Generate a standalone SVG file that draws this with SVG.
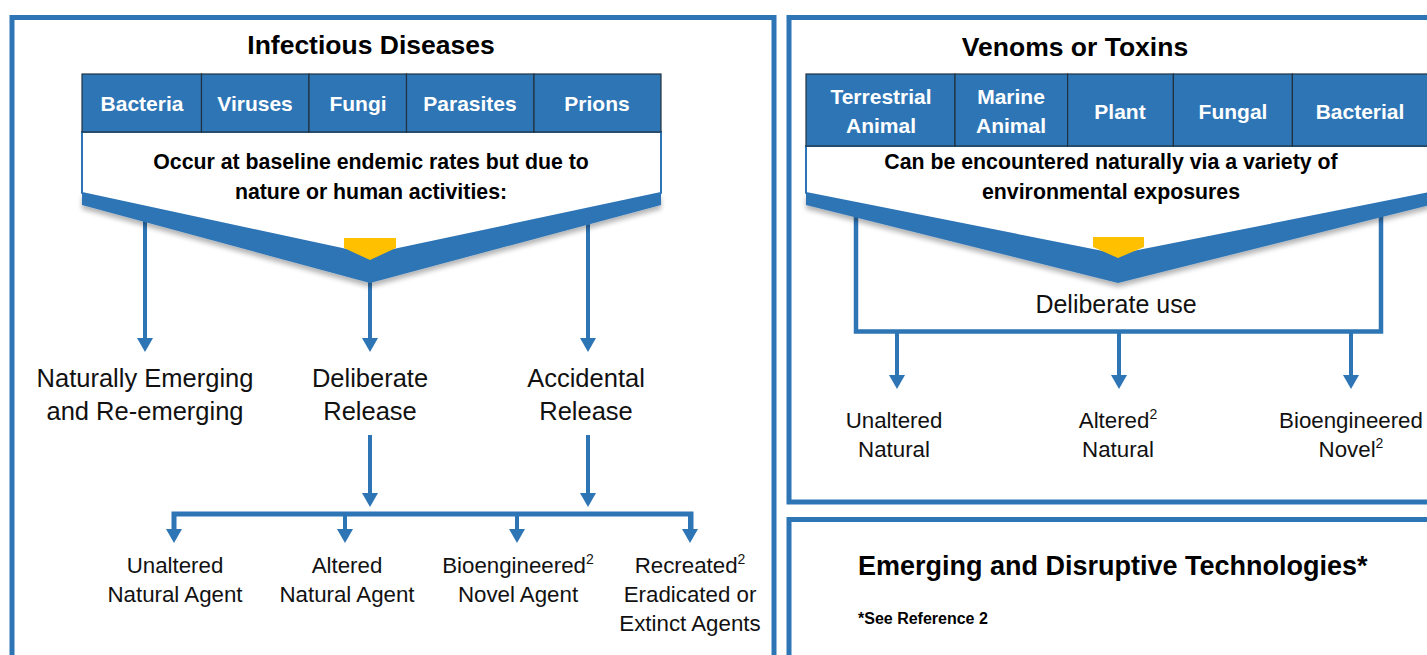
<svg xmlns="http://www.w3.org/2000/svg" width="1427" height="655" viewBox="0 0 1427 655">
  <defs>
    <style>
      .panel { fill: #ffffff; stroke: #2E75B6; stroke-width: 5; }
      .cell { fill: #2E75B6; stroke: #22313f; stroke-width: 1.2; }
      .cellText { font-family: "Liberation Sans", Arial, sans-serif; font-weight: bold; font-size: 21px; fill: #ffffff; text-anchor: middle; }
      .title { font-family: "Liberation Sans", Arial, sans-serif; font-weight: bold; font-size: 26.5px; fill: #000000; text-anchor: middle; }
      .note { font-family: "Liberation Sans", Arial, sans-serif; font-weight: bold; font-size: 21.3px; fill: #000000; text-anchor: middle; }
      .big { font-family: "Liberation Sans", Arial, sans-serif; font-size: 25.5px; fill: #111111; text-anchor: middle; }
      .small { font-family: "Liberation Sans", Arial, sans-serif; font-size: 22.3px; fill: #111111; text-anchor: middle; }
      .sup { font-size: 14px; }
      .panelWhite { fill: #ffffff; stroke: #2E75B6; stroke-width: 2; }
      .band { fill: #2E75B6; }
      .marker { fill: #FFC000; }
      .link { fill: none; stroke: #2E75B6; stroke-width: 4; }
      .bar { fill: none; stroke: #2E75B6; stroke-width: 5; }
    </style>
    <marker id="arrow" markerUnits="userSpaceOnUse" markerWidth="16" markerHeight="16" refX="2" refY="8" orient="auto" viewBox="0 0 14 16">
      <path d="M0,0 L14,8 L0,16 Z" fill="#2E75B6"/>
    </marker>
    <filter id="soft" x="-5%" y="-20%" width="110%" height="160%">
      <feGaussianBlur in="SourceAlpha" stdDeviation="2.5"/>
      <feOffset dx="0" dy="4" result="off"/>
      <feComponentTransfer><feFuncA type="linear" slope="0.3"/></feComponentTransfer>
      <feMerge><feMergeNode/><feMergeNode in="SourceGraphic"/></feMerge>
    </filter>
  </defs>

  <rect width="1427" height="655" fill="#ffffff"/>

  <!-- panel frames -->
  <g id="frames">
    <rect class="panel" x="12" y="17.5" width="762" height="720"/>
    <rect class="panel" x="789" y="17.5" width="700" height="484.5"/>
    <rect class="panel" x="789" y="519.5" width="700" height="220"/>
  </g>

  <!-- connectors -->
  <g id="connectors">
    <!-- infectious diseases: release pathways -->
    <line class="link" x1="145" y1="220" x2="145" y2="340" marker-end="url(#arrow)"/>
    <line class="link" x1="370" y1="278" x2="370" y2="340" marker-end="url(#arrow)"/>
    <line class="link" x1="588" y1="222" x2="588" y2="340" marker-end="url(#arrow)"/>
    <line class="link" x1="370" y1="435" x2="370" y2="495" marker-end="url(#arrow)"/>
    <line class="link" x1="588" y1="435" x2="588" y2="495" marker-end="url(#arrow)"/>
    <path class="bar" d="M174,531 V514 H691 V531"/>
    <line class="link" x1="174" y1="514" x2="174" y2="531" marker-end="url(#arrow)"/>
    <line class="link" x1="345" y1="514" x2="345" y2="531" marker-end="url(#arrow)"/>
    <line class="link" x1="517" y1="514" x2="517" y2="531" marker-end="url(#arrow)"/>
    <line class="link" x1="690" y1="514" x2="690" y2="531" marker-end="url(#arrow)"/>
    <!-- venoms: deliberate use outcomes -->
    <path class="link" style="stroke-width:4.5" d="M856,214 V331.5 H1381 V214"/>
    <line class="link" x1="897" y1="331" x2="897" y2="377" marker-end="url(#arrow)"/>
    <line class="link" x1="1119" y1="331" x2="1119" y2="377" marker-end="url(#arrow)"/>
    <line class="link" x1="1351" y1="331" x2="1351" y2="377" marker-end="url(#arrow)"/>
  </g>

  <!-- Infectious Diseases -->
  <g id="infectious">
    <text class="title" x="371" y="54">Infectious Diseases</text>
    <polygon class="panelWhite" points="82,132 661,132 661,193 370,255 82,193"/>
    <polygon class="band" filter="url(#soft)" points="82,193 370,255 661,193 661,205 370,283 82,205"/>
    <polygon class="marker" points="344,238 396,238 396,248 370,260 344,248"/>
    <text class="note" x="371" y="169">Occur at baseline endemic rates but due to</text>
    <text class="note" x="371" y="199">nature or human activities:</text>
  </g>
  <g id="infectious-agents">
    <rect class="cell" x="82" y="74" width="119.5" height="58"/>
    <rect class="cell" x="201.5" y="74" width="107.5" height="58"/>
    <rect class="cell" x="309" y="74" width="97.5" height="58"/>
    <rect class="cell" x="406.5" y="74" width="127.5" height="58"/>
    <rect class="cell" x="534" y="74" width="127" height="58"/>
    <text class="cellText" x="142" y="111">Bacteria</text>
    <text class="cellText" x="255" y="111">Viruses</text>
    <text class="cellText" x="358" y="111">Fungi</text>
    <text class="cellText" x="470" y="111">Parasites</text>
    <text class="cellText" x="597" y="111">Prions</text>
  </g>
  <g id="naturally-emerging">
    <text class="big" x="145" y="387">Naturally Emerging</text>
    <text class="big" x="145" y="420">and Re-emerging</text>
  </g>
  <g id="deliberate-release">
    <text class="big" x="370" y="387">Deliberate</text>
    <text class="big" x="370" y="420">Release</text>
  </g>
  <g id="accidental-release">
    <text class="big" x="586" y="387">Accidental</text>
    <text class="big" x="586" y="420">Release</text>
  </g>
  <g id="unaltered-agent">
    <text class="small" x="175" y="573">Unaltered</text>
    <text class="small" x="175" y="602">Natural Agent</text>
  </g>
  <g id="altered-agent">
    <text class="small" x="347" y="573">Altered</text>
    <text class="small" x="347" y="602">Natural Agent</text>
  </g>
  <g id="bioengineered-agent">
    <text class="small" x="518" y="573">Bioengineered<tspan class="sup" dy="-9">2</tspan></text>
    <text class="small" x="518" y="602">Novel Agent</text>
  </g>
  <g id="recreated-agent">
    <text class="small" x="690" y="573">Recreated<tspan class="sup" dy="-9">2</tspan></text>
    <text class="small" x="690" y="602">Eradicated or</text>
    <text class="small" x="690" y="631">Extinct Agents</text>
  </g>

  <!-- Venoms or Toxins -->
  <g id="venoms">
    <text class="title" x="1075" y="56">Venoms or Toxins</text>
    <polygon class="panelWhite" points="806,146 1430,146 1430,193 1118,255 806,193"/>
    <polygon class="band" filter="url(#soft)" points="806,193 1118,255 1430,193 1430,205 1118,283 806,205"/>
    <polygon class="marker" points="1093,237 1144,237 1144,247 1118,258 1093,247"/>
    <text class="note" x="1111" y="169">Can be encountered naturally via a variety of</text>
    <text class="note" x="1111" y="199">environmental exposures</text>
  </g>
  <g id="venom-sources">
    <rect class="cell" x="806" y="74" width="149" height="72"/>
    <rect class="cell" x="955" y="74" width="112.6" height="72"/>
    <rect class="cell" x="1067.6" y="74" width="105.8" height="72"/>
    <rect class="cell" x="1173.4" y="74" width="119" height="72"/>
    <rect class="cell" x="1292.4" y="74" width="140" height="72"/>
    <text class="cellText" x="881" y="104">Terrestrial</text>
    <text class="cellText" x="881" y="133">Animal</text>
    <text class="cellText" x="1011" y="104">Marine</text>
    <text class="cellText" x="1011" y="133">Animal</text>
    <text class="cellText" x="1120" y="119">Plant</text>
    <text class="cellText" x="1233" y="119">Fungal</text>
    <text class="cellText" x="1360" y="119">Bacterial</text>
  </g>
  <g id="deliberate-use">
    <text class="big" style="font-size:25px" x="1116" y="313">Deliberate use</text>
  </g>
  <g id="unaltered-natural">
    <text class="small" x="894" y="428">Unaltered</text>
    <text class="small" x="894" y="457">Natural</text>
  </g>
  <g id="altered-natural">
    <text class="small" x="1118" y="428">Altered<tspan class="sup" dy="-9">2</tspan></text>
    <text class="small" x="1118" y="457">Natural</text>
  </g>
  <g id="bioengineered-novel">
    <text class="small" x="1351" y="428">Bioengineered</text>
    <text class="small" x="1351" y="457">Novel<tspan class="sup" dy="-9">2</tspan></text>
  </g>

  <!-- Emerging and Disruptive Technologies -->
  <g id="emerging-tech">
    <text x="858" y="575" font-family="Liberation Sans, Arial, sans-serif" font-weight="bold" font-size="27px" fill="#000">Emerging and Disruptive Technologies*</text>
    <text x="858" y="624" font-family="Liberation Sans, Arial, sans-serif" font-weight="bold" font-size="16px" fill="#000">*See Reference 2</text>
  </g>
</svg>
